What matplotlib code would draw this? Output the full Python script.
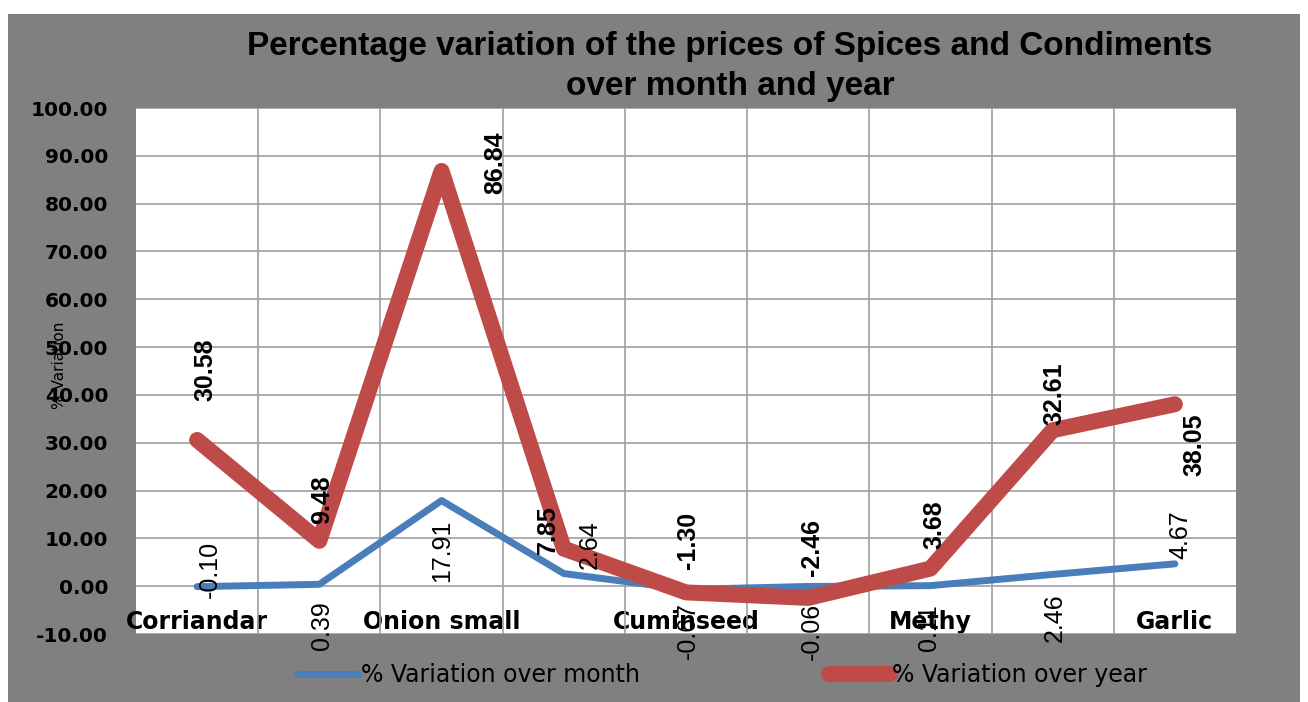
import matplotlib
matplotlib.use("Agg")
import matplotlib.pyplot as plt
from matplotlib import font_manager
from matplotlib.patches import Rectangle
import numpy as np

# data
categories = ["Corriandar", "", "Onion small", "", "Cuminseed", "", "Methy", "", "Garlic"]
var_month = [-0.10, 0.39, 17.91, 2.64, -0.67, -0.06, 0.11, 2.46, 4.67]
var_year = [30.58, 9.48, 86.84, 7.85, -1.30, -2.46, 3.68, 32.61, 38.05]
y_ticks = np.arange(-10, 101, 10)

# label offsets in pixels (dx, dy), as Excel placed them
month_offsets = [(13, 17), (3, -41), (1, -50), (26, 29), (2, -41), (4, -45), (-1, -42), (2, -43), (5, 29)]
year_offsets = [(8, 70), (3, 41), (54, 8), (-16, 19), (2, 52), (4, 50), (4, 44), (2, 37), (20, -41)]

names = {f.name for f in font_manager.fontManager.ttflist}
narrow = "Liberation Sans Narrow" if "Liberation Sans Narrow" in names else "Liberation Sans"

BLUE = "#4a7ebb"
RED = "#be4b48"
GRAY = "#808080"

fig = plt.figure(figsize=(13.08, 7.02), dpi=100)
fig.patch.set_facecolor("white")
fig.patches.append(Rectangle((8 / 1308, 0), 1292 / 1308, 1 - 14 / 702,
                             transform=fig.transFigure, facecolor=GRAY,
                             edgecolor="none", zorder=-10))

ax = fig.add_axes([136 / 1308, 1 - 634 / 702, 1100 / 1308, 526 / 702])
ax.set_facecolor("white")
x = np.arange(len(categories))

ax.plot(x, var_month, color=BLUE, lw=5, solid_capstyle="round",
        solid_joinstyle="round", zorder=3, label="% Variation over month")
ax.plot(x, var_year, color=RED, lw=11.5, solid_capstyle="round",
        solid_joinstyle="round", zorder=4, label="% Variation over year")

for xi, v, (dx, dy) in zip(x, var_month, month_offsets):
    ax.annotate(f"{v:.2f}", (xi, v), xytext=(dx, dy), textcoords="offset pixels",
                rotation=90, ha="center", va="center", fontsize=18,
                family=narrow, color="black", zorder=6)
for xi, v, (dx, dy) in zip(x, var_year, year_offsets):
    ax.annotate(f"{v:.2f}", (xi, v), xytext=(dx, dy), textcoords="offset pixels",
                rotation=90, ha="center", va="center", fontsize=18,
                family=narrow, fontweight="bold", color="black", zorder=6)

ax.set_xlim(-0.5, len(categories) - 0.5)
ax.set_ylim(-10, 100)
ax.set_yticks(y_ticks)
ax.set_yticklabels([f"{t:.2f}" for t in y_ticks], fontsize=14.5, fontweight="bold")
ax.set_xticks(x)
ax.set_xticklabels(categories, fontsize=17, fontweight="bold")
ax.set_xticks(x[:-1] + 0.5, minor=True)
ax.tick_params(axis="y", length=0, pad=20)
ax.tick_params(axis="x", which="both", length=0, pad=-17)
ax.grid(axis="y", which="major", color="#a0a0a0", lw=1.2, zorder=1)
ax.grid(axis="x", which="minor", color="#a0a0a0", lw=1.2, zorder=1)
ax.grid(axis="x", which="major", visible=False)
for s in ax.spines.values():
    s.set_visible(False)

fig.text(60 / 1308, 1 - 365 / 702, "% Variation", rotation=90, ha="center",
         va="center", fontsize=11)

fig.text(730 / 1308, 1 - 46 / 702, "Percentage variation of the prices of Spices and Condiments",
         ha="center", va="center", fontsize=24, fontweight="bold", family=narrow)
fig.text(730 / 1308, 1 - 86 / 702, "over month and year",
         ha="center", va="center", fontsize=24, fontweight="bold", family=narrow)

fig.legend(loc="center", bbox_to_anchor=(722 / 1308, 1 - 675 / 702), ncol=2,
           frameon=False, fontsize=17, handlelength=2.6, handletextpad=0.1,
           columnspacing=8.0)

fig.savefig("out.png", dpi=100, facecolor=fig.get_facecolor())
